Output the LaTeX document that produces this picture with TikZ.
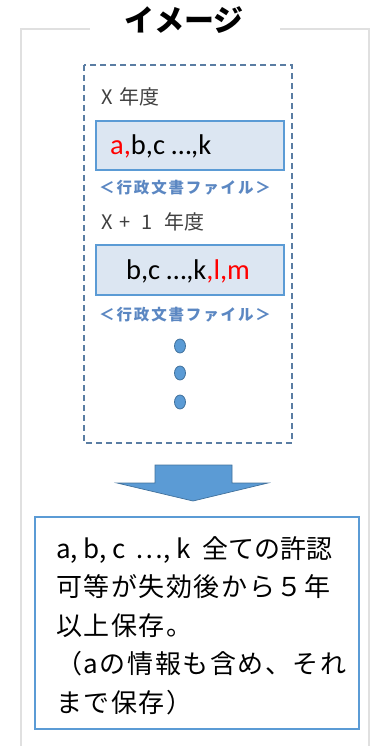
\documentclass[tikz,border=0pt]{standalone}
\usepackage{fontspec}
\usetikzlibrary{shapes.geometric}
\setmainfont{Carlito}
\newfontfamily\jpfont{Noto Sans CJK JP}
\newfontfamily\jpspaced[LetterSpace=12]{Noto Sans CJK JP}
\newfontfamily\jpbody[LetterSpace=6]{Noto Sans CJK JP}
\definecolor{frameGray}{HTML}{E0E0E0}
\definecolor{dashBlue}{HTML}{5A7DA3}
\definecolor{boxFill}{HTML}{DCE6F2}
\definecolor{boxLine}{HTML}{5B9BD5}
\definecolor{labelBlue}{HTML}{5B87C2}
\definecolor{arrowLine}{HTML}{41719C}
\definecolor{yearGray}{HTML}{404040}
\begin{document}
\begin{tikzpicture}[x=1pt,y=-1pt,
  filebox/.style={draw=boxLine,line width=2pt,fill=boxFill},
  yearlabel/.style={anchor=west,inner sep=0pt,text=yearGray,font=\jpfont\fontsize{20}{22}\selectfont},
  filelabel/.style={anchor=west,inner sep=0pt,text=labelBlue,font=\jpspaced\bfseries\fontsize{15.5}{18}\selectfont},
  dotmark/.style={ellipse,draw=arrowLine,fill=boxLine,line width=0.8pt,minimum width=11pt,minimum height=14pt,inner sep=0pt},
  boxtext/.style={inner sep=0pt,font=\fontsize{28.5}{30}\selectfont}
]
\useasboundingbox (0,0) rectangle (371,746);
% outer frame
\draw[frameGray,line width=2.5pt] (90,29) -- (21,29) -- (21,750);
\draw[frameGray,line width=2.5pt] (280,29) -- (369,29) -- (369,750);
\node[inner sep=0pt,font=\jpfont\bfseries\fontsize{30}{32}\selectfont] (title) at (184,20) {イメージ};
% dashed frame
\draw[dashBlue,line width=1.5pt,dash pattern=on 6pt off 4pt] (84,65) rectangle (292,443);
% year labels
\node[yearlabel] (y1) at (101,97) {X\hspace{7pt}年度};
\node[filebox,anchor=north west,minimum width=188pt,minimum height=49pt] (b1) at (95,120) {};
\node[boxtext,anchor=west] (t1) at (110,146) {\textcolor{red}{a,}b,c …,k};
\node[filelabel] (f1) at (99,188) {＜行政文書ファイル＞};
\node[yearlabel] (y2) at (101,222) {X\hspace{7pt}+\hspace{11pt}1\hspace{12pt}年度};
\node[filebox,anchor=north west,minimum width=188pt,minimum height=50pt] (b2) at (95,244) {};
\node[boxtext] (t2) at (188,271) {b,c …,k\textcolor{red}{,l,m}};
\node[filelabel] (f2) at (99,315) {＜行政文書ファイル＞};
\node[dotmark] (d1) at (180,346) {};
\node[dotmark] (d2) at (180,373) {};
\node[dotmark] (d3) at (180,402) {};
% arrow
\draw[arrowLine,fill=boxLine,line width=0.7pt] (155,465) -- (232,465) -- (232,483) -- (268,483) -- (193,501) -- (117,483) -- (155,483) -- cycle;
% result box
\node[draw=boxLine,line width=2pt,fill=white,anchor=north west,minimum width=324pt,minimum height=212pt] (res) at (34,516) {};
\node[anchor=north west,inner sep=0pt,align=left,font=\jpbody\fontsize{26}{38.5}\selectfont] (restext) at (56,536)
{{\jpfont a, b, c\hspace{10pt}…, k\hspace{12pt}全ての許認}\\可等が失効後から５年\\以上保存。\\（aの情報も含め、それ\\まで保存）};
\end{tikzpicture}
\end{document}
